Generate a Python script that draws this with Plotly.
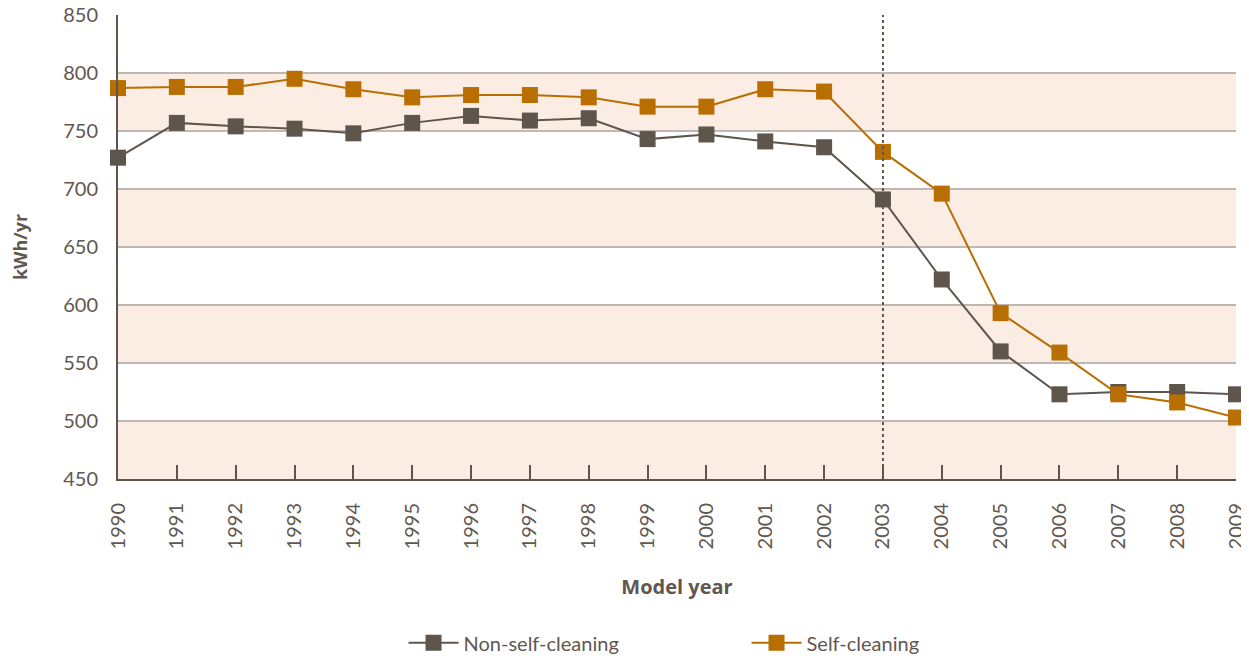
import plotly.graph_objects as go

years = list(range(1990, 2010))
non_self_cleaning = [727, 757, 754, 752, 748, 757, 763, 759, 761, 743, 747, 741, 736, 691, 622, 560, 523, 525, 525, 523]
self_cleaning = [787, 788, 788, 795, 786, 779, 781, 781, 779, 771, 771, 786, 784, 732, 696, 593, 559, 523, 516, 503]
band_ranges = [(450, 500), (550, 600), (650, 700), (750, 800)]
y_ticks = [450, 500, 550, 600, 650, 700, 750, 800, 850]
marker_year = 2003

TEXT = "#5f5750"
DARK = "#5e554c"
ORANGE = "#b86e00"
BAND = "#fcede4"
GRID = "#bfb8b3"
FONT = "Lato"
TITLE_FONT = "Open Sans"

fig = go.Figure()
fig.add_trace(go.Scatter(x=years, y=non_self_cleaning, name="Non-self-cleaning", mode="lines+markers",
                         line=dict(color=DARK, width=2),
                         marker=dict(symbol="square", size=16, color=DARK), cliponaxis=False))
fig.add_trace(go.Scatter(x=years, y=self_cleaning, name="Self-cleaning", mode="lines+markers",
                         line=dict(color=ORANGE, width=2),
                         marker=dict(symbol="square", size=16, color=ORANGE), cliponaxis=False))

shapes = []
for lo, hi in band_ranges:
    shapes.append(dict(type="rect", xref="paper", yref="y", x0=0, x1=1, y0=lo, y1=hi,
                       fillcolor=BAND, line=dict(width=0), layer="below"))
shapes.append(dict(type="line", xref="x", yref="paper", x0=marker_year, x1=marker_year, y0=0, y1=1,
                   line=dict(color=DARK, width=2, dash="dot"), layer="above"))

fig.update_layout(
    width=1241, height=650,
    margin=dict(l=110, r=13, t=7, b=179, autoexpand=False),
    paper_bgcolor="white", plot_bgcolor="white",
    font=dict(family=FONT, color=TEXT, size=20),
    shapes=shapes,
    showlegend=True,
    legend=dict(orientation="h", x=0.2554, xanchor="left", y=-0.353, yanchor="middle",
                font=dict(size=20, color=TEXT, family=FONT),
                entrywidth=278, entrywidthmode="pixels", itemwidth=50),
    xaxis=dict(range=[1990, 2009], tickmode="array", tickvals=years, ticktext=[str(y) for y in years],
               tickangle=-90, ticks="inside", ticklen=14, tickwidth=1.5, tickcolor=DARK,
               showline=True, linecolor=DARK, linewidth=2, showgrid=False, zeroline=False,
               ticklabelstandoff=14, ticklabeloverflow="allow",
               tickfont=dict(size=20, color=TEXT), automargin=False,
               title=dict(text="<b>Model year</b>", font=dict(size=20, color=TEXT, family=TITLE_FONT), standoff=32)),
    yaxis=dict(range=[450, 850], tickmode="array", tickvals=y_ticks,
               showline=True, linecolor=DARK, linewidth=2, showgrid=True, gridcolor=GRID, gridwidth=1.5,
               zeroline=False, ticks="", ticklabelstandoff=14, ticklabeloverflow="allow",
               tickfont=dict(size=20, color=TEXT), automargin=False,
               title=dict(text="<b>kWh/yr</b>", font=dict(size=18, color=TEXT, family=TITLE_FONT), standoff=32)),
)

fig.write_html("out.html")
